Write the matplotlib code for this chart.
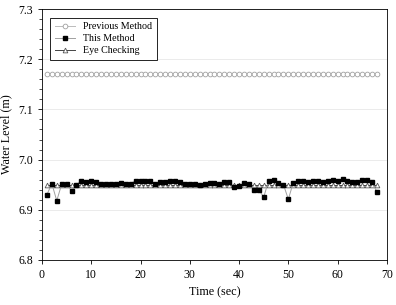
import matplotlib
matplotlib.use('Agg')
import matplotlib.pyplot as plt
from matplotlib.ticker import MultipleLocator

plt.rcParams['font.family'] = ['Liberation Serif', 'DejaVu Serif']

# 数据
t = list(range(1, 69))
prev_method = [7.17] * 68
eye_check = [6.95] * 68
this_method = [
    6.930, 6.952, 6.918, 6.951, 6.951, 6.938, 6.950, 6.958, 6.956, 6.957,
    6.955, 6.951, 6.951, 6.951, 6.951, 6.954, 6.951, 6.952, 6.958, 6.958,
    6.958, 6.957, 6.951, 6.955, 6.955, 6.957, 6.957, 6.955, 6.951, 6.951,
    6.951, 6.950, 6.951, 6.953, 6.953, 6.952, 6.955, 6.956, 6.945, 6.948,
    6.953, 6.952, 6.940, 6.940, 6.925, 6.958, 6.959, 6.953, 6.950, 6.921,
    6.954, 6.957, 6.957, 6.955, 6.957, 6.958, 6.956, 6.958, 6.960, 6.958,
    6.961, 6.957, 6.956, 6.956, 6.959, 6.959, 6.955, 6.935,
]

fig = plt.figure(figsize=(3.96, 3.05), dpi=100)
ax = fig.add_axes([0.106, 0.148, 0.871, 0.822])

ax.plot(t, prev_method, color='#bbbbbb', lw=0.7, marker='o', ms=3.4,
        mfc='white', mec='#a0a0a0', mew=0.6, label='Previous Method')
ax.plot(t, this_method, color='#a0a0a0', lw=0.7, marker='s', ms=3.2,
        mfc='black', mec='black', label='This Method', zorder=3)
ax.plot(t, eye_check, color='#444444', lw=0.7, marker='^', ms=3.4,
        mfc='white', mec='#555555', mew=0.6, label='Eye Checking')

ax.set_xlim(0, 70)
ax.set_ylim(6.8, 7.3)
ax.xaxis.set_major_locator(MultipleLocator(10))
ax.yaxis.set_major_locator(MultipleLocator(0.1))
ax.yaxis.set_minor_locator(MultipleLocator(0.02))
ax.yaxis.set_major_formatter(plt.FormatStrFormatter('%.1f'))
ax.tick_params(axis='both', which='major', labelsize=8.5, length=3, width=0.6)
ax.tick_params(axis='y', which='minor', length=2, width=0.5)
ax.grid(axis='y', which='major', color='#e8e8e8', lw=0.6)
ax.set_axisbelow(True)
for s in ax.spines.values():
    s.set_linewidth(0.6)

ax.set_xlabel('Time (sec)', fontsize=8.7)
ax.set_ylabel('Water Level (m)', fontsize=8.7)

leg = ax.legend(loc='upper left', fontsize=7.2, fancybox=False, framealpha=1,
                edgecolor='black', handlelength=2.0, borderpad=0.45,
                labelspacing=0.3, bbox_to_anchor=(0.01, 0.985))
leg.get_frame().set_linewidth(0.6)

fig.savefig('out.png', dpi=100)
